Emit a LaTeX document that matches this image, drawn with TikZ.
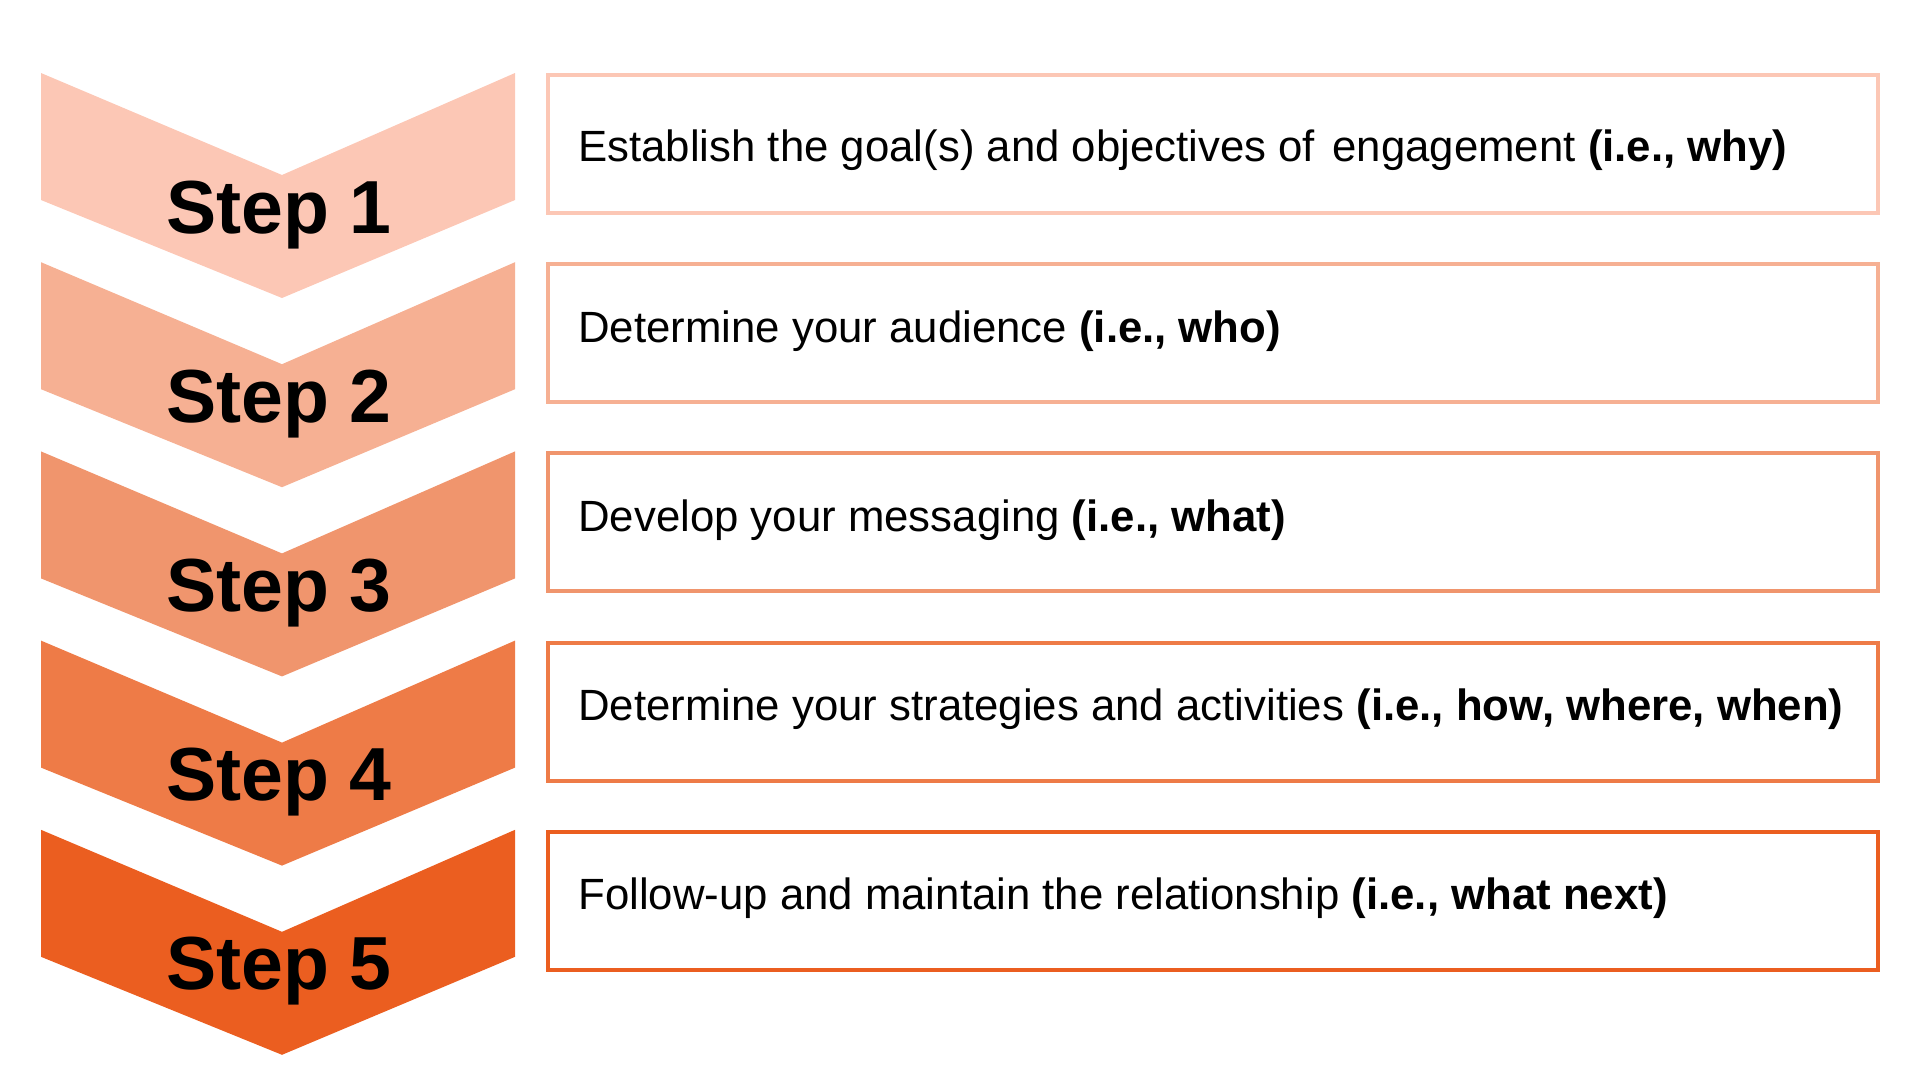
\documentclass[tikz,border=0pt]{standalone}
\usepackage{fontspec}
\setmainfont{Liberation Sans}
\definecolor{step_a}{RGB}{252, 199, 181}
\definecolor{step_b}{RGB}{246, 176, 147}
\definecolor{step_c}{RGB}{240, 149, 109}
\definecolor{step_d}{RGB}{238, 123, 71}
\definecolor{step_e}{RGB}{235, 94, 32}
\tikzstyle{sn}=[anchor=base,inner sep=0pt,font=\fontsize{42.8}{50}\selectfont\bfseries]
\tikzstyle{bx}=[draw,line width=2.27pt,fill=white,inner sep=0pt,
  minimum width=26.6cm,minimum height=2.76cm]
\tikzstyle{tx}=[anchor=base west,inner sep=0pt,font=\fontsize{24.9}{30}\selectfont]

\begin{document}
\begin{tikzpicture}[x=0.02cm,y=-0.02cm]
    \useasboundingbox (0,0) rectangle (1920,1080);
    \foreach \i/\c in {0/step_a,1/step_b,2/step_c,3/step_d,4/step_e} {
      \pgfmathsetmacro{\t}{73+189.2*\i}
      \fill [\c] (41,\t) -- (282,\t+102) -- (515,\t) -- (515,\t+127)
        -- (282,\t+225) -- (41,\t+127) -- cycle;
      \node [style=sn] (step\i) at (279,\t+160) {Step \the\numexpr\i+1\relax};
      \node [style=bx,draw=\c] (box\i) at (1213,\t+71) {};
    }
    \node [style=tx] (text0) at (578,73+88) {Establish the goal(s) and objectives of\hspace{0.4em}engagement \textbf{(i.e., why)}};
    \node [style=tx] (text1) at (578,262.2+80) {Determine your audience \textbf{(i.e., who)}};
    \node [style=tx] (text2) at (578,451.4+80) {Develop your messaging \textbf{(i.e., what)}};
    \node [style=tx] (text3) at (578,640.6+80) {Determine your strategies and activities \textbf{(i.e., how, where, when)}};
    \node [style=tx] (text4) at (578,829.8+80) {Follow-up and maintain the relationship \textbf{(i.e., what next)}};
  \end{tikzpicture}
\end{document}
